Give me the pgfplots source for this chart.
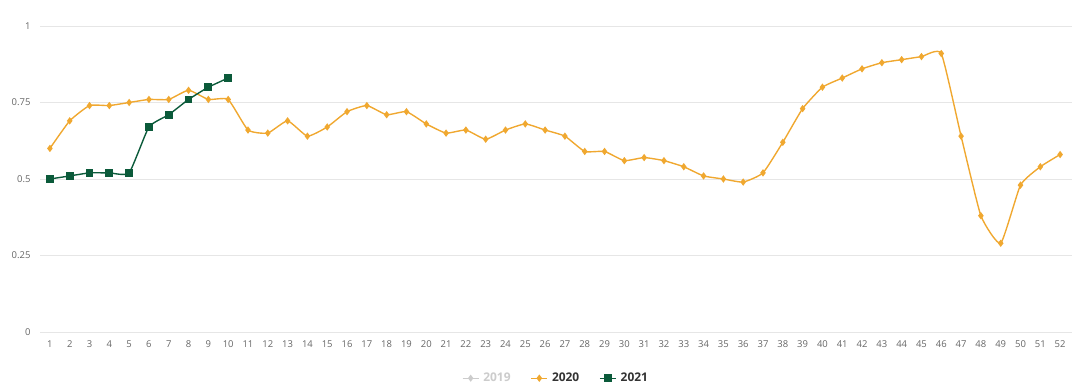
\documentclass[border=0pt]{standalone}
\usepackage{pgfplots}
\pgfplotsset{compat=1.18}
\usepackage{fontspec}
\setmainfont{Open Sans}
\definecolor{or}{HTML}{F0A830}
\definecolor{gr}{HTML}{0B5A3A}
\definecolor{grey19}{HTML}{CCCCCC}
\definecolor{tick}{HTML}{666666}
\definecolor{gridc}{HTML}{E6E6E6}
\begin{document}
\begin{tikzpicture}[x=1bp,y=1bp]
\path[use as bounding box] (-40,-58) rectangle (1040,332);
\begin{axis}[
  at={(0,0)}, anchor=south west,
  scale only axis, width=1032bp, height=306bp,
  xmin=0.5, xmax=52.6, ymin=0, ymax=1,
  xtick={1,...,52}, ytick={0,0.25,0.5,0.75,1},
  yticklabels={0,0.25,0.5,0.75,1},
  axis line style={draw=none},
  major tick length=0pt,
  ymajorgrids, grid style={gridc, line width=0.6pt},
  tick label style={font=\fontsize{9.5}{11}\selectfont, text=tick},
  /pgf/number format/assume math mode=true,
  xticklabel style={yshift=-5bp},
  yticklabel style={xshift=-6bp},
  legend style={draw=none, at={(0.5,-0.151)}, anchor=center, legend columns=3,
    font=\fontsize{12}{14}\selectfont\bfseries, column sep=0pt},
  legend image code/.code={\draw[mark repeat=2,mark phase=2] plot coordinates {(0bp,0bp)(8bp,0bp)(16bp,0bp)};},
  legend cell align=left,
]
\addlegendimage{grey19, line width=1.3pt, mark=diamond*, mark size=2.5pt}
\addlegendentry{\kern2bp\textcolor{grey19}{2019}\rule{18bp}{0pt}}
\addplot[or, line width=1.4pt, smooth, tension=0.28, mark=diamond*, mark size=2.6pt] coordinates {
(1,0.60)(2,0.69)(3,0.74)(4,0.74)(5,0.75)(6,0.76)(7,0.76)(8,0.79)(9,0.76)(10,0.76)
(11,0.66)(12,0.65)(13,0.69)(14,0.64)(15,0.67)(16,0.72)(17,0.74)(18,0.71)(19,0.72)(20,0.68)
(21,0.65)(22,0.66)(23,0.63)(24,0.66)(25,0.68)(26,0.66)(27,0.64)(28,0.59)(29,0.59)(30,0.56)
(31,0.57)(32,0.56)(33,0.54)(34,0.51)(35,0.50)(36,0.49)(37,0.52)(38,0.62)(39,0.73)(40,0.80)
(41,0.83)(42,0.86)(43,0.88)(44,0.89)(45,0.90)(46,0.91)(47,0.64)(48,0.38)(49,0.29)(50,0.48)
(51,0.54)(52,0.58)};
\addlegendentry{\kern2bp\textcolor{black!80}{2020}\rule{18bp}{0pt}}
\addplot[gr, line width=1.4pt, smooth, tension=0.28, mark=square*, mark size=3.2pt] coordinates {
(1,0.50)(2,0.51)(3,0.52)(4,0.52)(5,0.52)(6,0.67)(7,0.71)(8,0.76)(9,0.80)(10,0.83)};
\addlegendentry{\kern2bp\textcolor{black!80}{2021}}
\end{axis}
\end{tikzpicture}
\end{document}
